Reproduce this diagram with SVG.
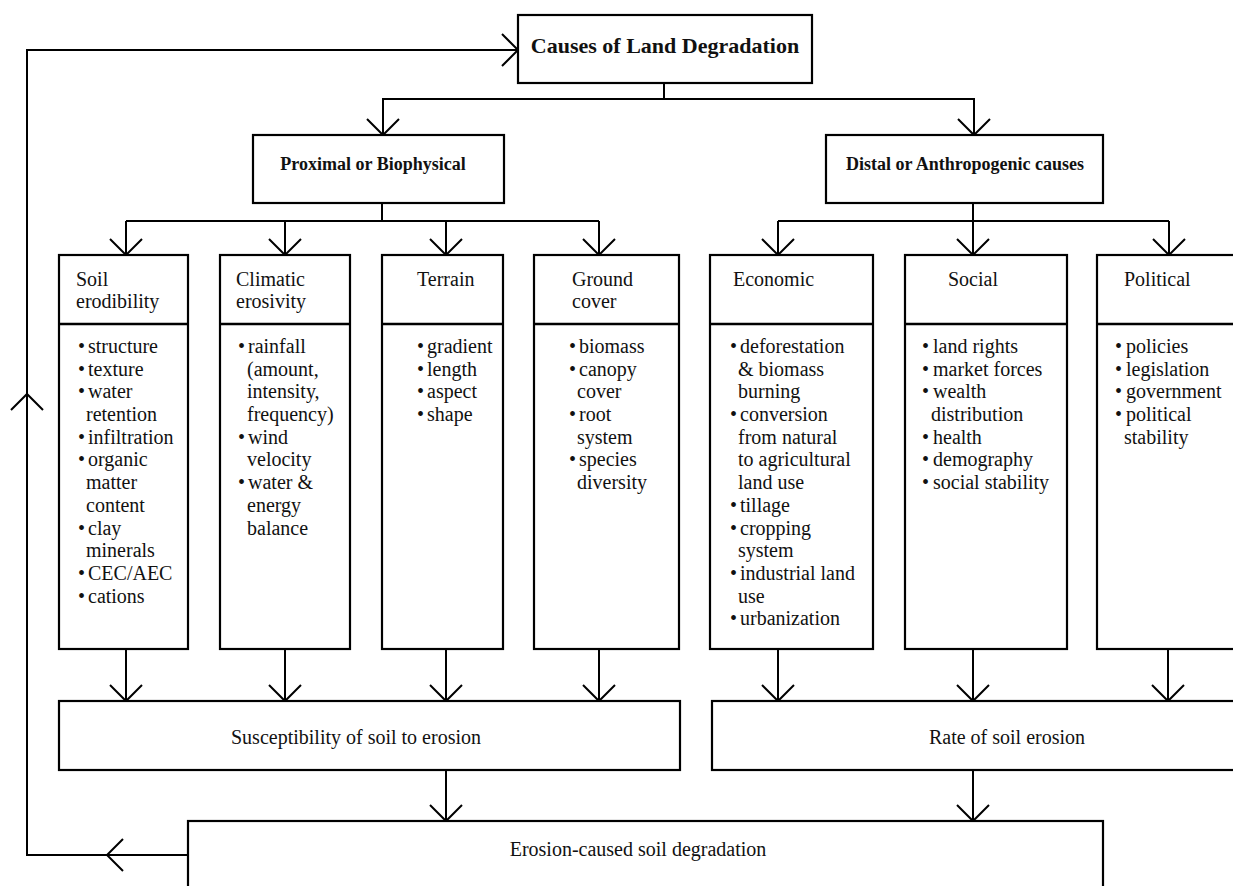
<svg xmlns="http://www.w3.org/2000/svg" width="1233" height="886" viewBox="0 0 1233 886">
<style>
.box{fill:#fff;stroke:#000;stroke-width:2.2}
.div{stroke:#000;stroke-width:2.5}
.ln{fill:none;stroke:#000;stroke-width:2}
.t{font-family:'Liberation Serif','Times New Roman',serif;font-size:20px;fill:#111}
.b{font-weight:bold}
.c{text-anchor:middle}
</style>
<defs>
<marker id="v" markerUnits="userSpaceOnUse" markerWidth="40" markerHeight="40" viewBox="-20 -20 40 40" refX="0" refY="0" orient="auto">
<path d="M-16,-16 L0,0 L-16,16" fill="none" stroke="#000" stroke-width="2"/>
</marker>
</defs>
<rect width="1233" height="886" fill="#fff"/>

<g id="connectors" class="ln">
<path d="M188,855 H107" marker-end="url(#v)"/>
<path d="M107,855 H27 V394" marker-end="url(#v)"/>
<path d="M27,394 V50 H518" marker-end="url(#v)"/>
<path d="M664,83 V99"/>
<path d="M664,99 H383 V135" marker-end="url(#v)"/>
<path d="M664,99 H974 V135" marker-end="url(#v)"/>
<path d="M382,203 V221"/>
<path d="M126,221 H599"/>
<path d="M126,221 V255" marker-end="url(#v)"/>
<path d="M285,221 V255" marker-end="url(#v)"/>
<path d="M446,221 V255" marker-end="url(#v)"/>
<path d="M599,221 V255" marker-end="url(#v)"/>
<path d="M973,203 V221"/>
<path d="M778,221 H1169"/>
<path d="M778,221 V255" marker-end="url(#v)"/>
<path d="M973,221 V255" marker-end="url(#v)"/>
<path d="M1169,221 V255" marker-end="url(#v)"/>
<path d="M126,649 V701" marker-end="url(#v)"/>
<path d="M285,649 V701" marker-end="url(#v)"/>
<path d="M446,649 V701" marker-end="url(#v)"/>
<path d="M599,649 V701" marker-end="url(#v)"/>
<path d="M778,649 V701" marker-end="url(#v)"/>
<path d="M973,649 V701" marker-end="url(#v)"/>
<path d="M1168,649 V701" marker-end="url(#v)"/>
<path d="M446,770 V821" marker-end="url(#v)"/>
<path d="M973,770 V821" marker-end="url(#v)"/>
</g>

<g id="causes">
<rect class="box" x="518" y="15" width="294" height="68"/>
<text class="t b c" x="665" y="53" style="font-size:22px">Causes of Land Degradation</text>
</g>

<g id="proximal">
<rect class="box" x="253" y="135" width="251" height="68"/>
<text class="t b c" x="373" y="170" style="font-size:18px">Proximal or Biophysical</text>
</g>

<g id="distal">
<rect class="box" x="826" y="135" width="277" height="68"/>
<text class="t b c" x="965" y="170" style="font-size:18px">Distal or Anthropogenic causes</text>
</g>

<g id="soil-erodibility">
<rect class="box" x="59" y="255" width="129" height="394"/>
<line class="div" x1="59" y1="324" x2="188" y2="324"/>
<text class="t" x="76" y="286">Soil</text>
<text class="t" x="76" y="308">erodibility</text>
<text class="t"><tspan x="78" y="353">•</tspan><tspan x="78" y="376">•</tspan><tspan x="78" y="398">•</tspan><tspan x="78" y="444">•</tspan><tspan x="78" y="466">•</tspan><tspan x="78" y="535">•</tspan><tspan x="78" y="580">•</tspan><tspan x="78" y="603">•</tspan></text>
<text class="t"><tspan x="88" y="353">structure</tspan><tspan x="88" y="376">texture</tspan><tspan x="88" y="398">water</tspan><tspan x="86" y="421">retention</tspan><tspan x="88" y="444">infiltration</tspan><tspan x="88" y="466">organic</tspan><tspan x="86" y="489">matter</tspan><tspan x="86" y="512">content</tspan><tspan x="88" y="535">clay</tspan><tspan x="86" y="557">minerals</tspan><tspan x="88" y="580">CEC/AEC</tspan><tspan x="88" y="603">cations</tspan></text>
</g>

<g id="climatic-erosivity">
<rect class="box" x="220" y="255" width="130" height="394"/>
<line class="div" x1="220" y1="324" x2="350" y2="324"/>
<text class="t" x="236" y="286">Climatic</text>
<text class="t" x="236" y="308">erosivity</text>
<text class="t"><tspan x="238" y="353">•</tspan><tspan x="238" y="444">•</tspan><tspan x="238" y="489">•</tspan></text>
<text class="t"><tspan x="248" y="353">rainfall</tspan><tspan x="247" y="376">(amount,</tspan><tspan x="247" y="398">intensity,</tspan><tspan x="247" y="421">frequency)</tspan><tspan x="248" y="444">wind</tspan><tspan x="247" y="466">velocity</tspan><tspan x="248" y="489">water &amp;</tspan><tspan x="247" y="512">energy</tspan><tspan x="247" y="535">balance</tspan></text>
</g>

<g id="terrain">
<rect class="box" x="382" y="255" width="121" height="394"/>
<line class="div" x1="382" y1="324" x2="503" y2="324"/>
<text class="t" x="417" y="286">Terrain</text>
<text class="t"><tspan x="417" y="353">•</tspan><tspan x="417" y="376">•</tspan><tspan x="417" y="398">•</tspan><tspan x="417" y="421">•</tspan></text>
<text class="t"><tspan x="427" y="353">gradient</tspan><tspan x="427" y="376">length</tspan><tspan x="427" y="398">aspect</tspan><tspan x="427" y="421">shape</tspan></text>
</g>

<g id="ground-cover">
<rect class="box" x="534" y="255" width="145" height="394"/>
<line class="div" x1="534" y1="324" x2="679" y2="324"/>
<text class="t" x="572" y="286">Ground</text>
<text class="t" x="572" y="308">cover</text>
<text class="t"><tspan x="569" y="353">•</tspan><tspan x="569" y="376">•</tspan><tspan x="569" y="421">•</tspan><tspan x="569" y="466">•</tspan></text>
<text class="t"><tspan x="579" y="353">biomass</tspan><tspan x="579" y="376">canopy</tspan><tspan x="577" y="398">cover</tspan><tspan x="579" y="421">root</tspan><tspan x="577" y="444">system</tspan><tspan x="579" y="466">species</tspan><tspan x="577" y="489">diversity</tspan></text>
</g>

<g id="economic">
<rect class="box" x="710" y="255" width="163" height="394"/>
<line class="div" x1="710" y1="324" x2="873" y2="324"/>
<text class="t" x="733" y="286">Economic</text>
<text class="t"><tspan x="730" y="353">•</tspan><tspan x="730" y="421">•</tspan><tspan x="730" y="512">•</tspan><tspan x="730" y="535">•</tspan><tspan x="730" y="580">•</tspan><tspan x="730" y="625">•</tspan></text>
<text class="t"><tspan x="740" y="353">deforestation</tspan><tspan x="738" y="376">&amp; biomass</tspan><tspan x="738" y="398">burning</tspan><tspan x="740" y="421">conversion</tspan><tspan x="738" y="444">from natural</tspan><tspan x="738" y="466">to agricultural</tspan><tspan x="738" y="489">land use</tspan><tspan x="740" y="512">tillage</tspan><tspan x="740" y="535">cropping</tspan><tspan x="738" y="557">system</tspan><tspan x="740" y="580">industrial land</tspan><tspan x="738" y="603">use</tspan><tspan x="740" y="625">urbanization</tspan></text>
</g>

<g id="social">
<rect class="box" x="905" y="255" width="162" height="394"/>
<line class="div" x1="905" y1="324" x2="1067" y2="324"/>
<text class="t" x="948" y="286">Social</text>
<text class="t"><tspan x="922" y="353">•</tspan><tspan x="922" y="376">•</tspan><tspan x="922" y="398">•</tspan><tspan x="922" y="444">•</tspan><tspan x="922" y="466">•</tspan><tspan x="922" y="489">•</tspan></text>
<text class="t"><tspan x="933" y="353">land rights</tspan><tspan x="933" y="376">market forces</tspan><tspan x="933" y="398">wealth</tspan><tspan x="931" y="421">distribution</tspan><tspan x="933" y="444">health</tspan><tspan x="933" y="466">demography</tspan><tspan x="933" y="489">social stability</tspan></text>
</g>

<g id="political">
<rect class="box" x="1097" y="255" width="160" height="394"/>
<line class="div" x1="1097" y1="324" x2="1257" y2="324"/>
<text class="t" x="1124" y="286">Political</text>
<text class="t"><tspan x="1115" y="353">•</tspan><tspan x="1115" y="376">•</tspan><tspan x="1115" y="398">•</tspan><tspan x="1115" y="421">•</tspan></text>
<text class="t"><tspan x="1126" y="353">policies</tspan><tspan x="1126" y="376">legislation</tspan><tspan x="1126" y="398">government</tspan><tspan x="1126" y="421">political</tspan><tspan x="1124" y="444">stability</tspan></text>
</g>

<g id="susceptibility">
<rect class="box" x="59" y="701" width="621" height="69"/>
<text class="t c" x="356" y="744">Susceptibility of soil to erosion</text>
</g>

<g id="rate">
<rect class="box" x="712" y="701" width="545" height="69"/>
<text class="t c" x="1007" y="744">Rate of soil erosion</text>
</g>

<g id="erosion-degradation">
<rect class="box" x="188" y="821" width="915" height="100"/>
<text class="t c" x="638" y="856">Erosion-caused soil degradation</text>
</g>
</svg>
